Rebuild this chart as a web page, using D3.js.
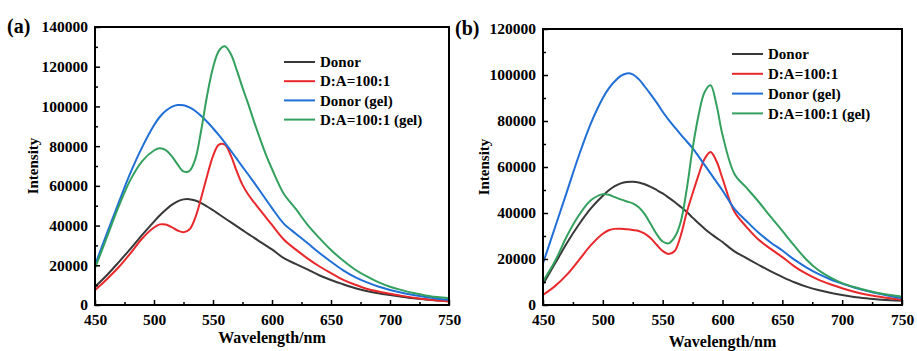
<!DOCTYPE html>
<html>
<head>
<meta charset="utf-8">
<script src="https://cdn.jsdelivr.net/npm/d3@7"></script>
<style>
    body { margin: 0; background: #fff; }
    svg { display: block; }
    text { font-family: "Liberation Serif", "Times New Roman", Tinos, serif; font-weight: bold; fill: #000; }
    .curve { fill: none; stroke-width: 2; stroke-linejoin: round; }
</style>
</head>
<body>
<script>
var width = 917,
    height = 351;

// wavelengths (nm), shared by every series
var wavelength = [450, 460, 470, 480, 490, 500, 505, 510, 515, 520, 525, 530, 535, 540, 545, 550, 555, 560,
    565, 570, 575, 580, 585, 590, 595, 600, 610, 620, 630, 640, 650, 660, 670, 680, 690, 700, 710, 720, 730, 740, 750];

var seriesNames = ["Donor", "D:A=100:1", "Donor (gel)", "D:A=100:1 (gel)"];
var seriesColors = ["#383838", "#e8282b", "#1f6fd6", "#33a05e"];

// panel (a)
var donorA = [9200, 15000, 21500, 28300, 35300, 42000, 45200, 48000, 50400, 52200, 53200, 53300, 52600, 51300,
    49600, 47700, 45700, 43700, 41700, 39700, 37700, 35700, 33800, 31800, 29900, 28000, 23600, 20700, 17900,
    15000, 12600, 10500, 8600, 7100, 5900, 5000, 4200, 3400, 2800, 2300, 1900];
var ratioA = [7500, 13000, 19000, 26000, 33500, 39000, 40600, 40500, 39200, 37500, 36600, 38000, 44000, 54000,
    65000, 75000, 80800, 80800, 75500, 67500, 60500, 55500, 51500, 47800, 44000, 40300, 33000, 28000, 23500,
    19500, 16000, 12800, 10300, 8200, 6800, 5700, 4600, 3700, 2900, 2300, 1800];
var donorGelA = [20000, 36000, 51500, 66500, 79500, 90500, 94800, 97800, 99800, 100700, 100600, 99500, 97700,
    95200, 92300, 89000, 85500, 81800, 77800, 73700, 69600, 65600, 61500, 57300, 53000, 48800, 41000, 36000,
    31200, 26300, 21800, 17600, 14200, 11500, 9300, 7600, 6200, 5000, 4000, 3200, 2600];
var ratioGelA = [18500, 34000, 49500, 63000, 72500, 77800, 78900, 78000, 75000, 70800, 67300, 67500, 73500,
    88000, 105500, 119500, 128000, 130300, 126500, 118500, 109500, 101000, 92000, 83500, 75500, 68500, 56000,
    48500, 40500, 33800, 27700, 22500, 18000, 14500, 11500, 9200, 7500, 6000, 4800, 4000, 3400];

// panel (b)
var donorB = [9000, 18000, 27000, 35000, 42000, 47500, 49900, 51700, 52900, 53500, 53600, 53300, 52500, 51400,
    50000, 48500, 46700, 44800, 42700, 40500, 38000, 35500, 33200, 31100, 29200, 27400, 23300, 20400, 17500,
    14700, 12200, 9900, 8000, 6500, 5300, 4300, 3500, 2900, 2400, 2100, 1800];
var ratioB = [4400, 8200, 13200, 19500, 26000, 31000, 32500, 33100, 33100, 32900, 32600, 32200, 31000, 29000,
    26200, 23500, 22200, 23500, 30000, 40000, 48500, 56500, 63500, 66500, 62500, 55000, 40500, 34000, 28500,
    24500, 20800, 16800, 13600, 11000, 9000, 7300, 5800, 4600, 3700, 2900, 2200];
var donorGelB = [18100, 33700, 49300, 65000, 79000, 90000, 94200, 97300, 99600, 100700, 100300, 98200, 95000,
    91600, 88000, 84000, 80500, 77300, 74200, 71200, 68200, 64600, 60900, 57200, 53500, 49800, 41800, 36500,
    31500, 27300, 23700, 19700, 16400, 13500, 11200, 9300, 7600, 6200, 5000, 3900, 2900];
var ratioGelB = [10300, 19000, 30000, 39000, 45500, 48200, 47900, 46900, 45900, 45000, 44200, 42500, 39500,
    35200, 30800, 27600, 26800, 29500, 36000, 50000, 68000, 82500, 92500, 95500, 87000, 74000, 57000, 51000,
    45000, 38500, 32200, 25800, 19800, 15200, 12000, 9500, 7800, 6400, 5200, 4300, 3600];

var xTicks = [450, 500, 550, 600, 650, 700, 750];
var xMinorTicks = [475, 525, 575, 625, 675, 725];

var panels = [{
    label: "(a)",
    left: 95, right: 449, top: 27, bottom: 305,
    yMax: 140000,
    yTicks: [0, 20000, 40000, 60000, 80000, 100000, 120000, 140000],
    series: [donorA, ratioA, donorGelA, ratioGelA],
    labelPos: [7, 33],
    yTitleX: 33,
    xTitleY: 343,
    legend: { x1: 284, x2: 315, y: 62, step: 19.2 }
}, {
    label: "(b)",
    left: 543, right: 902, top: 29, bottom: 305,
    yMax: 120000,
    yTicks: [0, 20000, 40000, 60000, 80000, 100000, 120000],
    series: [donorB, ratioB, donorGelB, ratioGelB],
    labelPos: [455, 35],
    yTitleX: 484,
    xTitleY: 347,
    legend: { x1: 732, x2: 763, y: 54, step: 19.8 }
}];

var svg = d3.select("body").append("svg")
    .attr("width", width)
    .attr("height", height);

panels.forEach(function(p) {
    drawPanel(p);
});

function drawPanel(p) {
    var x = d3.scaleLinear().domain([450, 750]).range([p.left, p.right]);
    var y = d3.scaleLinear().domain([0, p.yMax]).range([p.bottom, p.top]);

    var minorY = [];
    for (var v = 10000; v < p.yMax; v += 20000) minorY.push(v);

    var g = svg.append("g");

    // curves, clipped to the frame
    var clipId = "clip" + p.label.replace(/\W/g, "");
    g.append("clipPath").attr("id", clipId)
        .append("rect")
        .attr("x", p.left).attr("y", p.top)
        .attr("width", p.right - p.left).attr("height", p.bottom - p.top);

    var line = d3.line()
        .x(function(d, i) { return x(wavelength[i]); })
        .y(function(d) { return y(d); })
        .curve(d3.curveCatmullRom.alpha(0.5));

    g.append("g").attr("clip-path", "url(#" + clipId + ")")
        .selectAll(".curve")
        .data(p.series)
        .enter().append("path")
        .attr("class", "curve")
        .attr("d", line)
        .style("stroke", function(d, i) { return seriesColors[i]; });

    // bottom axis, ticks pointing inward
    var xAxis = g.append("g")
        .attr("transform", "translate(0," + p.bottom + ")")
        .call(d3.axisBottom(x).tickValues(xTicks).tickSize(-5).tickPadding(9).tickFormat(d3.format("d")));
    xAxis.append("g")
        .call(d3.axisBottom(x).tickValues(xMinorTicks).tickSize(-3).tickFormat(""));

    var yAxis = g.append("g")
        .attr("transform", "translate(" + p.left + ",0)")
        .call(d3.axisLeft(y).tickValues(p.yTicks).tickSize(-5).tickPadding(7).tickFormat(d3.format("d")));
    yAxis.append("g")
        .call(d3.axisLeft(y).tickValues(minorY).tickSize(-3).tickFormat(""));

    g.selectAll(".domain").remove();
    g.selectAll(".tick line").attr("stroke", "#000").attr("stroke-width", 1.5);
    g.selectAll(".tick text")
        .attr("fill", "#000")
        .style("font-size", "15.5px")
        .style("font-family", "'Liberation Serif', 'Times New Roman', serif")
        .style("font-weight", "bold");

    // frame
    g.append("rect")
        .attr("x", p.left).attr("y", p.top)
        .attr("width", p.right - p.left).attr("height", p.bottom - p.top)
        .attr("fill", "none").attr("stroke", "#000").attr("stroke-width", 2);

    // titles
    g.append("text")
        .attr("x", (p.left + p.right) / 2)
        .attr("y", p.xTitleY)
        .attr("text-anchor", "middle")
        .style("font-size", "16px")
        .text("Wavelength/nm");

    g.append("text")
        .attr("transform", "translate(" + p.yTitleX + "," + (p.top + p.bottom) / 2 + ") rotate(-90)")
        .attr("text-anchor", "middle")
        .attr("dy", "0.35em")
        .style("font-size", "15px")
        .text("Intensity");

    g.append("text")
        .attr("x", p.labelPos[0])
        .attr("y", p.labelPos[1])
        .style("font-size", "20px")
        .text(p.label);

    // legend
    var legend = g.selectAll(".legend")
        .data(seriesNames)
        .enter().append("g")
        .attr("class", "legend")
        .attr("transform", function(d, i) {
            return "translate(0," + (p.legend.y + i * p.legend.step) + ")";
        });

    legend.append("line")
        .attr("x1", p.legend.x1).attr("x2", p.legend.x2)
        .attr("y1", 0).attr("y2", 0)
        .attr("stroke-width", 2)
        .attr("stroke", function(d, i) { return seriesColors[i]; });

    legend.append("text")
        .attr("x", p.legend.x2 + 5)
        .attr("dy", "0.35em")
        .style("font-size", "15px")
        .text(function(d) { return d; });
}
</script>
</body>
</html>
